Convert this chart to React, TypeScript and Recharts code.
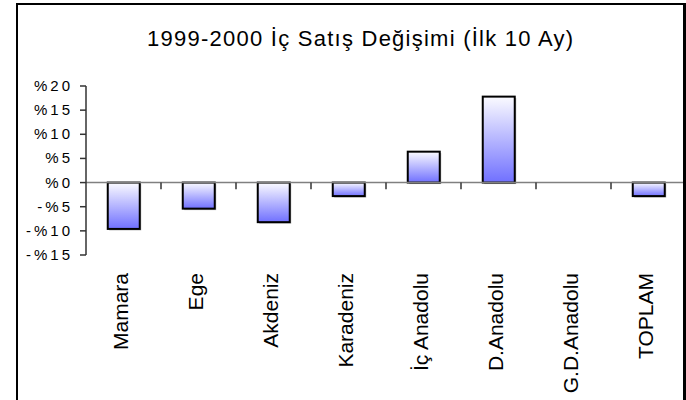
import React from 'react';
import { BarChart, Bar, XAxis, YAxis, ReferenceLine } from 'recharts';

const categories = ['Mamara', 'Ege', 'Akdeniz', 'Karadeniz', 'İç Anadolu', 'D.Anadolu', 'G.D.Anadolu', 'TOPLAM'];
const values = [-9.6, -5.4, -8.2, -2.8, 6.4, 17.8, 0, -2.8];
const yTicks = [-15, -10, -5, 0, 5, 10, 15, 20];
const title = '1999-2000 İç Satış Değişimi (İlk 10 Ay)';

const data = categories.map((name, i) => ({ name, value: values[i] }));

const FONT = '"Liberation Sans", Arial, Helvetica, sans-serif';

const fmt = (v: number) => (v < 0 ? `-%${-v}` : `%${v}`);

function YTick(props: any) {
  const { x, y, payload } = props;
  return (
    <text x={x - 5} y={y} dy={5} textAnchor="end" fontFamily={FONT} fontSize={15} letterSpacing={3} fill="#000">
      {fmt(payload.value)}
    </text>
  );
}

function XTick(props: any) {
  const { x, y, payload } = props;
  const tx = x + 4;
  const ty = y + 18;
  return (
    <text x={tx} y={ty} transform={`rotate(-90 ${tx} ${ty})`} textAnchor="end" fontFamily={FONT} fontSize={21} fill="#000">
      {payload.value}
    </text>
  );
}

function BarShape(p: any) {
  const h = Math.abs(p.height || 0);
  if (!h || !p.width) return null;
  const y0 = Math.min(p.y, p.y + p.height);
  return (
    <g>
      <rect x={p.x + 1.5} y={y0 + 1.5} width={p.width} height={h} fill="#b8b8b8" />
      <rect x={p.x} y={y0} width={p.width} height={h} fill="url(#barGrad)" stroke="#000" strokeWidth={2} />
    </g>
  );
}

export default function App() {
  return (
    <div style={{ position: 'absolute', left: 0, top: 0, width: 686, height: 400, overflow: 'hidden', background: '#fff' }}>
      <BarChart
        width={686}
        height={400}
        data={data}
        margin={{ top: 86, right: 0, bottom: 0, left: 0 }}
        barCategoryGap="29%"
      >
        <XAxis
          dataKey="name"
          height={145}
          interval={0}
          tick={<XTick />}
          tickLine={false}
          axisLine={false}
          tickSize={0}
          tickMargin={0}
        />
        <YAxis
          width={86}
          type="number"
          domain={[-15, 20]}
          ticks={yTicks}
          interval={0}
          tick={<YTick />}
          tickLine={{ stroke: '#333', strokeWidth: 1.5 }}
          axisLine={{ stroke: '#333', strokeWidth: 1.5 }}
          tickSize={6}
          tickMargin={2}
          allowDataOverflow
        />
        <Bar dataKey="value" isAnimationActive={false} shape={<BarShape />} />
        <ReferenceLine y={0} stroke="#808080" strokeWidth={1.5} />
        {categories.slice(1).map((c) => (
          <ReferenceLine
            key={c}
            segment={[{ x: c, y: 0 }, { x: c, y: -1.4 }]}
            position="start"
            stroke="#333"
            strokeWidth={1.5}
            ifOverflow="visible"
          />
        ))}
      </BarChart>
      <svg width={686} height={400} style={{ position: 'absolute', left: 0, top: 0, pointerEvents: 'none' }}>
        <defs>
          <linearGradient id="barGrad" x1="0" y1="0" x2="0" y2="1">
            <stop offset="0" stopColor="#fbfbff" />
            <stop offset="1" stopColor="#7070ff" />
          </linearGradient>
        </defs>
        <text x={147} y={46} fontFamily={FONT} fontSize={22} fill="#000" textLength={426} lengthAdjust="spacing">
          {title}
        </text>
      </svg>
      <div
        style={{
          position: 'absolute',
          left: 16,
          top: 3,
          width: 670,
          height: 430,
          boxSizing: 'border-box',
          borderLeft: '2px solid #000',
          borderTop: '2px solid #000',
          borderRight: '3px solid #000',
        }}
      />
    </div>
  );
}
